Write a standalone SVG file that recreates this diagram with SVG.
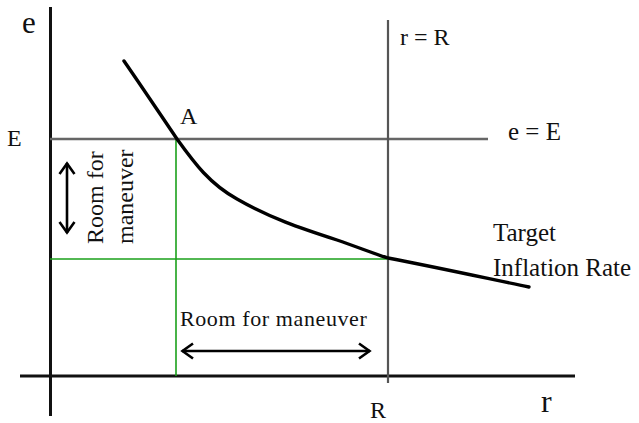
<svg xmlns="http://www.w3.org/2000/svg" width="639" height="423" viewBox="0 0 639 423">
<style>
text{font-family:"Liberation Serif","Times New Roman",serif;fill:#111}
.ax{stroke:#111;stroke-width:3;fill:none}
.ref{stroke:#555;stroke-width:2.2;fill:none}
.grn{stroke:#1aa01a;stroke-width:1.6;fill:none}
.arr{stroke:#000;stroke-width:2.6;fill:none;marker-start:url(#chev);marker-end:url(#chev)}
</style>
<defs>
<marker id="chev" markerUnits="userSpaceOnUse" markerWidth="16" markerHeight="20" refX="13" refY="9" orient="auto-start-reverse">
<path d="M2,1.5 L12.5,9 L2,16.5" fill="none" stroke="#000" stroke-width="2.6"/>
</marker>
</defs>
<rect width="639" height="423" fill="#fff"/>
<g id="axes">
<line class="ax" x1="50.5" y1="7" x2="50.5" y2="416"/>
<line class="ax" x1="20" y1="376" x2="575" y2="376"/>
</g>
<g id="reference-lines">
<line class="ref" x1="50" y1="139" x2="488" y2="139" style="stroke:#666;stroke-width:2.6"/>
<line class="ref" x1="388" y1="20" x2="388" y2="383"/>
</g>
<g id="green-lines">
<line class="grn" x1="176" y1="139" x2="176" y2="376"/>
<line class="grn" x1="50" y1="259" x2="388" y2="259"/>
</g>
<g id="curve">
<path d="M124,61 C142,87 160,114 177,139 C195,164 210,184 237,199 C270,218 300,228 337,240 C360,248 375,254 388,258 C440,268 490,279 529,287" fill="none" stroke="#000" stroke-width="3.4" stroke-linecap="round"/>
</g>
<g id="connectors">
<line class="arr" x1="67" y1="163" x2="67" y2="233"/>
<line class="arr" x1="182" y1="351" x2="370" y2="351"/>
</g>
<g id="labels">
<text x="22" y="33" font-size="31">e</text>
<text x="7" y="146" font-size="24">E</text>
<text x="180" y="124" font-size="24">A</text>
<text x="400" y="45" font-size="24">r = R</text>
<text x="508" y="140" font-size="25">e = E</text>
<text x="493" y="241" font-size="25">Target</text>
<text x="493" y="276" font-size="25">Inflation Rate</text>
<text x="180" y="326" font-size="22" letter-spacing="0.6">Room for maneuver</text>
<text x="370" y="418" font-size="24">R</text>
<text x="541" y="412" font-size="32">r</text>
<text transform="translate(103,244) rotate(-90)" font-size="24">Room for</text>
<text transform="translate(133,244) rotate(-90)" font-size="24">maneuver</text>
</g>
</svg>
